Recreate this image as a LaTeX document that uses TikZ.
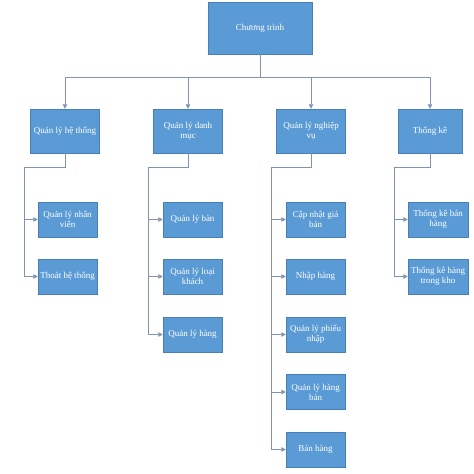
\documentclass[tikz,border=0pt]{standalone}
\usepackage{fontspec}
\setmainfont{Liberation Serif}
\usepackage{tikz}
\usetikzlibrary{arrows.meta, positioning, calc}
\definecolor{boxblue}{RGB}{91,155,213}
\definecolor{boxedge}{RGB}{72,128,182}
\definecolor{linkgray}{RGB}{128,148,176}

\begin{document}
\begin{tikzpicture}[
    x=1pt, y=-1pt,
    main/.style={rectangle, draw=boxedge, fill=boxblue, line width=0.5pt, text=white, minimum width=104pt, minimum height=52pt, align=center, font=\fontsize{9}{10}\selectfont, inner sep=1pt},
    group/.style={main, minimum width=69pt, minimum height=44pt},
    item/.style={main, minimum width=59pt, minimum height=35pt},
    link/.style={draw=linkgray, line width=0.7pt},
    arrow/.style={link, -{Triangle[width=4.5pt, length=4.5pt]}}
]
\useasboundingbox (0,0) rectangle (474,474);

% Top
\node[main] (prog) at (260,28) {Chương trình};

% Groups
\node[group] (hethong) at (65,131) {Quản lý hệ thống};
\node[group] (danhmuc) at (188,131) {Quản lý danh\\mục};
\node[group] (nghiepvu) at (311,131) {Quản lý nghiệp\\vụ};
\node[group, minimum width=64pt] (thongke) at (430,131) {Thống kê};

% Items
\node[item] (nhanvien) at (67.5,219.5) {Quản lý nhân\\viên};
\node[item] (thoat) at (67.5,276.5) {Thoát hệ thống};

\node[item] (ban) at (192.5,219.5) {Quản lý bàn};
\node[item] (loaikhach) at (192.5,276.5) {Quản lý loại\\khách};
\node[item] (hang) at (192.5,334.5) {Quản lý hàng};

\node[item] (capnhat) at (315.5,219.5) {Cập nhật giá\\bán};
\node[item] (nhaphang) at (315.5,276.5) {Nhập hàng};
\node[item] (phieunhap) at (315.5,334.5) {Quản lý phiếu\\nhập};
\node[item] (hangban) at (315.5,392) {Quản lý hàng\\bán};
\node[item] (banhang) at (315.5,449.5) {Bán hàng};

\node[item, minimum width=60pt] (tkban) at (438,219.5) {Thống kê bán\\hàng};
\node[item, minimum width=60pt] (tkkho) at (438,276.5) {Thống kê hàng\\trong kho};

% Bus
\coordinate (bus) at (260,77);
\draw[link] (prog.south) -- (bus);
\foreach \g in {hethong, danhmuc, nghiepvu, thongke}
    \draw[arrow] (bus) -| (\g.north);

% Spines
\coordinate (sp1) at (24,167);
\coordinate (sp2) at (148,167);
\coordinate (sp3) at (271,167);
\coordinate (sp4) at (394,167);
\draw[link] (hethong.south) |- (sp1);
\draw[link] (danhmuc.south) |- (sp2);
\draw[link] (nghiepvu.south) |- (sp3);
\draw[link] (thongke.south) |- (sp4);

\foreach \c in {nhanvien, thoat}
    \draw[arrow] (sp1) |- (\c.west);
\foreach \c in {ban, loaikhach, hang}
    \draw[arrow] (sp2) |- (\c.west);
\foreach \c in {capnhat, nhaphang, phieunhap, hangban, banhang}
    \draw[arrow] (sp3) |- (\c.west);
\foreach \c in {tkban, tkkho}
    \draw[arrow] (sp4) |- (\c.west);

\end{tikzpicture}
\end{document}
